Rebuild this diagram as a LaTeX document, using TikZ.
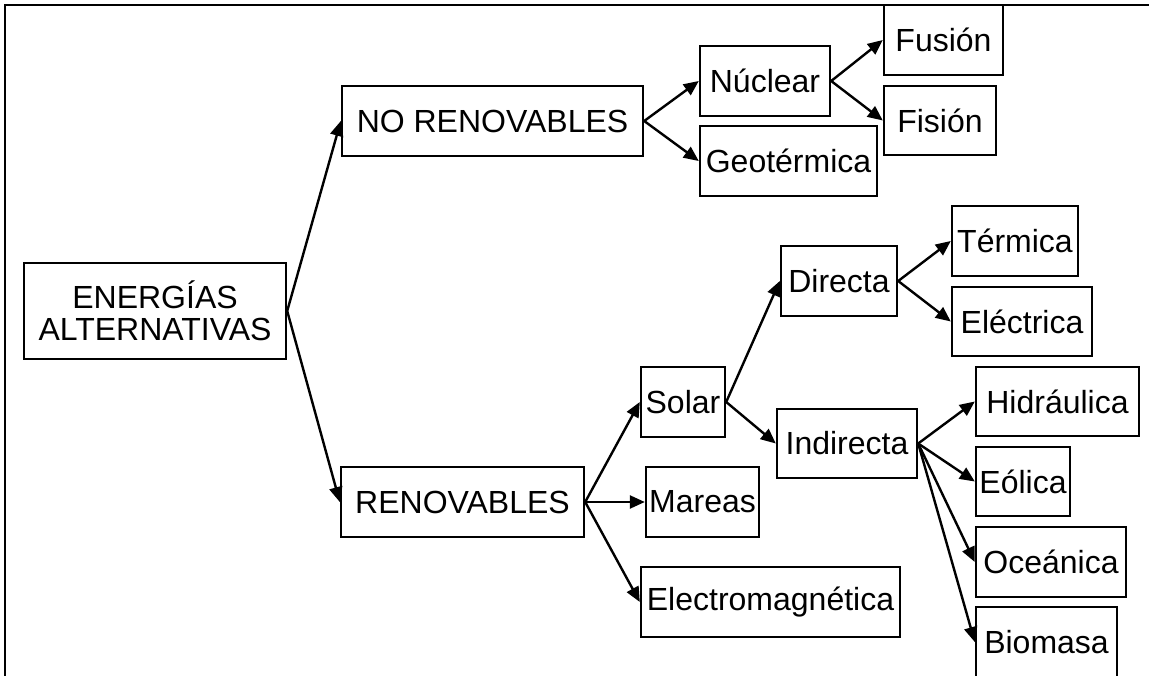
\documentclass[tikz,border=0pt]{standalone}
\usepackage{fontspec}
\setmainfont{Liberation Sans}
\usetikzlibrary{arrows.meta}
\begin{document}
\begin{tikzpicture}[x=1pt,y=-1pt,
  bx/.style={draw=black,line width=2.4pt,inner sep=0pt,minimum height=70pt,
    font=\fontsize{32}{32.5}\selectfont,align=center},
  arr/.style={line width=2.4pt,-{Triangle[length=15pt,width=13pt]}},
  frame/.style={line width=2.6pt}]
\useasboundingbox (0,0) rectangle (1149,675);
\draw[frame] (1160,5) -- (5,5) -- (5,690);
% nodes
\node[bx,minimum width=262pt,minimum height=96pt] (ea) at (155,311) {ENERGÍAS\\ALTERNATIVAS};
\node[bx,minimum width=301pt] (nor) at (492.5,121) {NO RENOVABLES};
\node[bx,minimum width=243pt] (ren) at (462.5,502) {RENOVABLES};
\node[bx,minimum width=130pt] (nuc) at (765,81) {Núclear};
\node[bx,minimum width=177pt] (geo) at (788.5,161) {Geotérmica};
\node[bx,minimum width=119pt] (fus) at (943.5,40) {Fusión};
\node[bx,minimum width=112pt,minimum height=69pt] (fis) at (940,120.5) {Fisión};
\node[bx,minimum width=84pt] (sol) at (683,402) {Solar};
\node[bx,minimum width=113pt] (mar) at (702.5,502) {Mareas};
\node[bx,minimum width=259pt] (ele) at (770.5,602) {Electromagnética};
\node[bx,minimum width=116pt] (dir) at (839,281) {Directa};
\node[bx,minimum width=140pt,minimum height=69pt] (ind) at (847,443.5) {Indirecta};
\node[bx,minimum width=126pt] (ter) at (1015,241) {Térmica};
\node[bx,minimum width=140pt,minimum height=69pt] (elc) at (1022,321.5) {Eléctrica};
\node[bx,minimum width=163pt,minimum height=69pt] (hid) at (1057.5,401.5) {Hidráulica};
\node[bx,minimum width=94pt,minimum height=69pt] (eol) at (1023,481.5) {Eólica};
\node[bx,minimum width=150pt] (oce) at (1051,562) {Oceánica};
\node[bx,minimum width=141pt] (bio) at (1046.5,642) {Biomasa};
% connectors
\draw[arr] (ea.east) -- (nor.west);
\draw[arr] (ea.east) -- (ren.west);
\draw[arr] (nor.east) -- (nuc.west);
\draw[arr] (nor.east) -- (geo.west);
\draw[arr] (nuc.east) -- (fus.west);
\draw[arr] (nuc.east) -- (fis.west);
\draw[arr] (ren.east) -- (sol.west);
\draw[arr] (ren.east) -- (mar.west);
\draw[arr] (ren.east) -- (ele.west);
\draw[arr] (sol.east) -- (dir.west);
\draw[arr] (sol.east) -- (ind.west);
\draw[arr] (dir.east) -- (ter.west);
\draw[arr] (dir.east) -- (elc.west);
\draw[arr] (ind.east) -- (hid.west);
\draw[arr] (ind.east) -- (eol.west);
\draw[arr] (ind.east) -- (oce.west);
\draw[arr] (ind.east) -- (bio.west);
\end{tikzpicture}
\end{document}
